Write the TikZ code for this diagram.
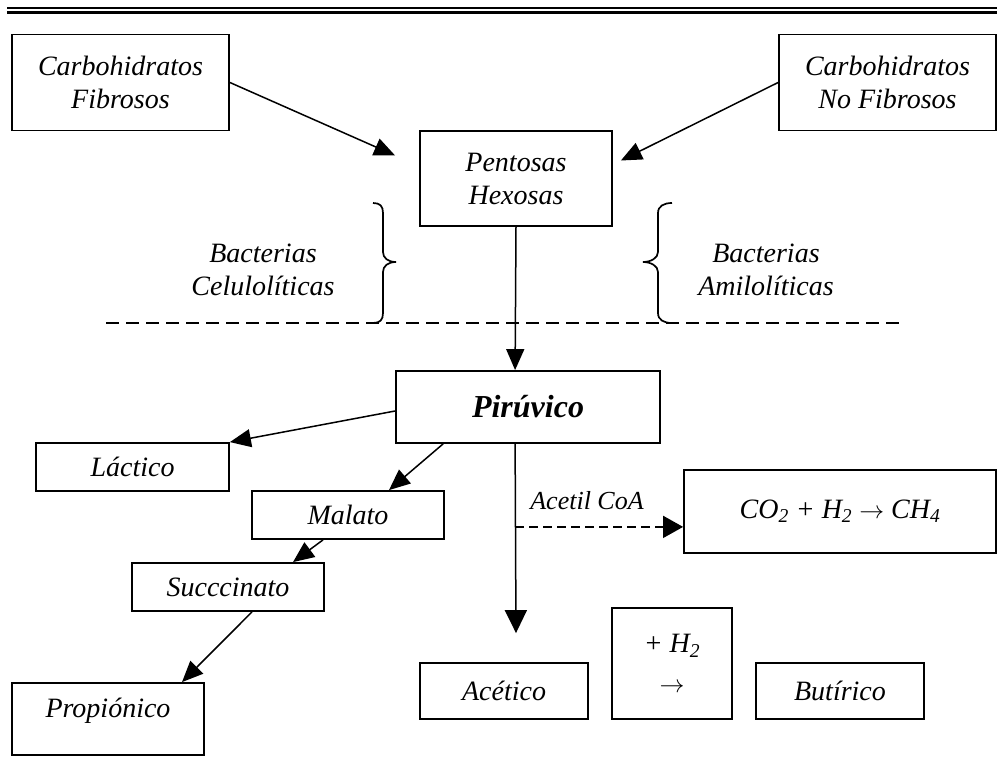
\documentclass[tikz,border=0pt]{standalone}
\usepackage{fontspec}
\setmainfont{Liberation Serif}
\usetikzlibrary{arrows.meta,calc}
\newcommand{\rarr}{\ensuremath{\rightarrow}}
\begin{document}
\begin{tikzpicture}[x=1pt,y=-1pt,
  txt/.style={font=\itshape\fontsize{28}{33}\selectfont, inner sep=0pt, align=center},
  box/.style={txt, draw, line width=1.8pt},
  arr/.style={line width=1.5pt, -{Triangle[length=21pt,width=18pt]}},
  dline/.style={line width=1.5pt, dash pattern=on 13pt off 7pt},
  brace/.style={line width=1.7pt}]
\useasboundingbox (0,0) rectangle (997,776);
% top rules
\coordinate (r1a) at (7,8);    \coordinate (r1b) at (997,8);
\coordinate (r2a) at (7,12.5); \coordinate (r2b) at (997,12.5);
\draw[line width=1.1pt] (r1a) -- (r1b);
\draw[line width=2.6pt] (r2a) -- (r2b);

% boxes
\node[box, minimum width=217, minimum height=96] (cf) at (120.5,82.5) {Carbohidratos\\Fibrosos};
\node[box, minimum width=217, minimum height=96] (cnf) at (887.5,82.5) {Carbohidratos\\No Fibrosos};
\node[box, minimum width=192, minimum height=95] (ph) at (516,178.5) {Pentosas\\Hexosas};
\node[box, minimum width=264, minimum height=72, font=\bfseries\itshape\fontsize{32}{38}\selectfont] (pir) at (528,407) {Pirúvico};
\node[box, minimum width=193, minimum height=48] (lac) at (132.5,467) {Láctico};
\node[box, minimum width=192, minimum height=48] (mal) at (348,515) {Malato};
\node[box, minimum width=192, minimum height=48] (suc) at (228,587) {Succcinato};
\node[box, minimum width=192, minimum height=72, text depth=22pt] (prop) at (108,719) {Propiónico};
\node[box, minimum width=312, minimum height=83] (co2) at (840,511.5) {CO\textsubscript{2} + H\textsubscript{2} \rarr{} CH\textsubscript{4}};
\node[box, minimum width=168, minimum height=56] (acet) at (504,691) {Acético};
\node[box, minimum width=120, minimum height=111] (h2) at (672,663.5) {+ H\textsubscript{2}\\[7pt]\rarr};
\node[box, minimum width=168, minimum height=56] (but) at (840,691) {Butírico};

% bacteria labels
\node[txt] (bl) at (263,270) {Bacterias\\Celulolíticas};
\node[txt] (br) at (766,270) {Bacterias\\Amilolíticas};
\node[txt, font=\itshape\fontsize{26}{30}\selectfont] (acoa) at (587,501) {Acetil CoA};

% braces
\draw[brace] (373,203) .. controls (380,203) and (383,206) .. (383,213) -- (383,252)
  .. controls (383,258) and (388,262) .. (396,262)
  .. controls (388,262) and (383,266) .. (383,272) -- (383,313)
  .. controls (383,320) and (380,323) .. (373,323);
\draw[brace] (672,203) .. controls (664,203) and (658,206) .. (658,213) -- (658,252)
  .. controls (658,258) and (651,262) .. (643,262)
  .. controls (651,262) and (658,266) .. (658,272) -- (658,313)
  .. controls (658,320) and (664,323) .. (672,323);

% dashed separator
\coordinate (d1) at (106,323); \coordinate (d2) at (900,323);
\draw[dline] (d1) -- (d2);

% connectors
\coordinate (t1) at ($(ph.west)+(-24,-23)$);
\coordinate (t2) at ($(ph.east)+(8,-18)$);
\draw[arr] (cf.east) -- (t1);
\draw[arr] (cnf.west) -- (t2);
\draw[arr] (ph.south) -- ($(pir.north west)+(120,0)$) coordinate (pt);
\draw[arr] ($(pir.west)+(0,4)$) coordinate (pw) -- (lac.north east);
\draw[arr] ($(pir.south west)+(48,0)$) coordinate (p5) -- ($(mal.north)+(41,0)$) coordinate (m1);
\draw[arr] ($(mal.south)+(-25,0)$) coordinate (m2) -- ($(suc.north)+(65,0)$) coordinate (s1);
\draw[arr] ($(suc.south)+(24,0)$) coordinate (s2) -- ($(prop.north)+(74,0)$) coordinate (pr1);
\coordinate (pb) at ($(pir.south west)+(120,0)$);
\coordinate (t3) at ($(acet.north)+(12,-29)$);
\draw[line width=1.5pt, -{Triangle[length=23pt,width=22pt]}] (pb) -- (t3);
\coordinate (j) at ($(pb)+(0,83)$);
\coordinate (c2w) at ($(co2.south west)+(0,-27)$);
\draw[line width=1.5pt, dash pattern=on 9pt off 5pt, -{Triangle[length=20pt,width=22pt]}] (j) -- (c2w);
\end{tikzpicture}
\end{document}
